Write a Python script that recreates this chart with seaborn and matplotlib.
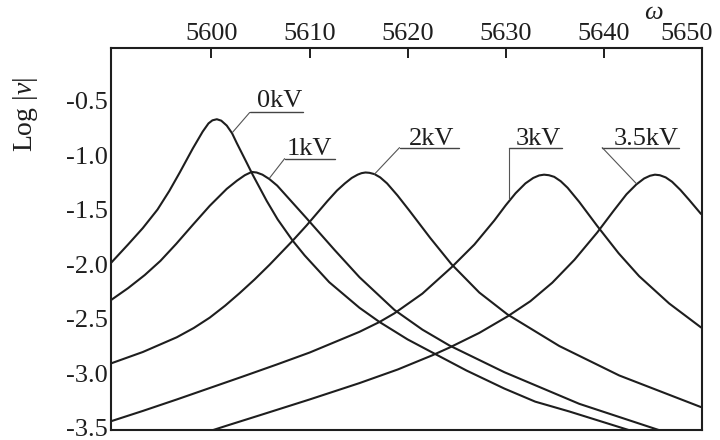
import pandas as pd
import matplotlib.pyplot as plt
import matplotlib.transforms as mtransforms
import seaborn as sns

# Curvas: frequência ω e Log|v| para cada tensão
labels = ["0kV", "1kV", "2kV", "3kV", "3.5kV"]

omega_0kv = [5589.75, 5591.50, 5593.00, 5594.50, 5595.70, 5596.77, 5598.10, 5599.11,
             5599.70, 5600.10, 5600.55, 5601.00, 5601.56, 5602.10, 5602.58, 5603.59,
             5604.20, 5605.63, 5606.75, 5608.28, 5609.50, 5612.00, 5615.09, 5617.13,
             5620.00, 5622.73, 5626.00, 5629.85, 5633.00, 5636.47, 5642.88]
logv_0kv = [-1.99, -1.82, -1.67, -1.50, -1.33, -1.16, -0.94, -0.785,
            -0.71, -0.682, -0.672, -0.685, -0.73, -0.80, -0.89, -1.07,
            -1.18, -1.42, -1.59, -1.785, -1.92, -2.165, -2.40, -2.53,
            -2.69, -2.82, -2.975, -3.14, -3.26, -3.35, -3.53]

omega_1kv = [5589.75, 5591.50, 5593.20, 5594.80, 5596.40, 5598.10, 5599.83, 5601.56,
             5602.60, 5603.40, 5604.10, 5604.60, 5605.20, 5605.90, 5606.70, 5607.60,
             5608.60, 5609.70, 5612.55, 5615.09, 5618.66, 5621.50, 5624.25, 5629.85,
             5637.49, 5645.93]
logv_1kv = [-2.33, -2.22, -2.10, -1.97, -1.815, -1.64, -1.465, -1.31,
            -1.235, -1.185, -1.155, -1.16, -1.18, -1.22, -1.28, -1.37,
            -1.47, -1.58, -1.87, -2.12, -2.42, -2.60, -2.745, -2.99,
            -3.28, -3.53]

omega_2kv = [5589.75, 5593.01, 5596.47, 5598.20, 5599.83, 5601.40, 5602.88, 5604.40,
             5605.93, 5608.28, 5609.70, 5611.84, 5612.80, 5613.60, 5614.30, 5614.90,
             5615.30, 5615.70, 5616.10, 5616.62, 5617.20, 5617.90, 5618.96, 5620.18,
             5622.30, 5624.46, 5627.30, 5630.16, 5635.45, 5641.56, 5649.90]
logv_2kv = [-2.91, -2.805, -2.67, -2.585, -2.49, -2.38, -2.265, -2.14,
            -2.005, -1.785, -1.645, -1.42, -1.325, -1.26, -1.21, -1.18,
            -1.166, -1.16, -1.163, -1.175, -1.205, -1.26, -1.37, -1.51,
            -1.76, -2.00, -2.26, -2.46, -2.75, -3.02, -3.31]

omega_3kv = [5589.75, 5593.01, 5596.47, 5599.83, 5603.19, 5606.65, 5610.01, 5615.09,
             5617.13, 5618.66, 5621.50, 5624.46, 5626.80, 5628.83, 5630.00, 5631.00,
             5632.00, 5632.80, 5633.40, 5633.90, 5634.40, 5634.94, 5635.60, 5636.30,
             5637.49, 5639.32, 5641.50, 5643.59, 5646.65, 5649.90]
logv_3kv = [-3.44, -3.345, -3.24, -3.135, -3.03, -2.92, -2.81, -2.62,
            -2.53, -2.45, -2.27, -2.03, -1.82, -1.60, -1.46, -1.35,
            -1.26, -1.21, -1.187, -1.18, -1.185, -1.20, -1.24, -1.30,
            -1.43, -1.65, -1.90, -2.11, -2.36, -2.58]

omega_35kv = [5599.83, 5601.56, 5604.92, 5610.01, 5615.09, 5619.00, 5622.52, 5624.25,
              5627.30, 5630.16, 5632.50, 5634.74, 5637.00, 5639.32, 5641.00, 5642.30,
              5643.30, 5644.10, 5644.70, 5645.20, 5645.70, 5646.30, 5646.95, 5647.80,
              5648.68, 5649.90]
logv_35kv = [-3.53, -3.48, -3.385, -3.24, -3.09, -2.965, -2.835, -2.765,
             -2.63, -2.48, -2.34, -2.17, -1.96, -1.71, -1.51, -1.36,
             -1.27, -1.215, -1.19, -1.18, -1.185, -1.205, -1.245, -1.32,
             -1.41, -1.54]

x_ticks = [5600, 5610, 5620, 5630, 5640, 5650]
y_ticks = [-3.5, -3.0, -2.5, -2.0, -1.5, -1.0, -0.5]

curves = [(omega_0kv, logv_0kv), (omega_1kv, logv_1kv), (omega_2kv, logv_2kv),
          (omega_3kv, logv_3kv), (omega_35kv, logv_35kv)]
frames = []
for lab, (om, lv) in zip(labels, curves):
    frames.append(pd.DataFrame({"omega": om, "logv": lv, "tensao": lab}))
df = pd.concat(frames, ignore_index=True)

sns.set_style("white")
plt.rcParams["font.family"] = ["Liberation Serif", "DejaVu Serif"]
plt.rcParams["axes.unicode_minus"] = False
plt.rcParams["mathtext.fontset"] = "custom"
plt.rcParams["mathtext.rm"] = "Liberation Serif"
plt.rcParams["mathtext.it"] = "Liberation Serif:italic"

ink = "#1e1e1e"
fig = plt.figure(figsize=(7.2, 4.4), dpi=100)
ax = fig.add_axes([0.154, 0.0227, 0.821, 0.868])

sns.lineplot(data=df, x="omega", y="logv", hue="tensao", units="tensao",
             estimator=None, palette=[ink] * 5, linewidth=1.5,
             legend=False, ax=ax)

ax.set_xlim(5589.75, 5649.9)
ax.set_ylim(-3.52, -0.02)
ax.set_xticks(x_ticks)
ax.set_yticks(y_ticks)
ax.set_yticklabels([f"{t:.1f}" for t in y_ticks])
ax.xaxis.tick_top()
ax.tick_params(axis="both", direction="in", length=7, width=1.4,
               colors=ink, labelsize=19)
ax.tick_params(axis="x", pad=2.5)
ax.tick_params(axis="y", pad=2)
ax.set_xlabel("")
ax.set_ylabel("")
for sp in ax.spines.values():
    sp.set_visible(True)
    sp.set_linewidth(1.5)
    sp.set_color(ink)

# último rótulo deslocado para dentro da figura
last = ax.get_xticklabels()[-1]
last.set_transform(last.get_transform() +
                   mtransforms.ScaledTranslation(-0.15, 0, fig.dpi_scale_trans))

# rótulos das curvas com sublinhado e linha de chamada
label_pos = [(5606.96, -0.564), (5610.0, -0.996), (5622.42, -0.904),
             (5633.31, -0.904), (5644.30, -0.904)]
underline = [(5603.90, 5609.29, -0.610), (5607.46, 5612.55, -1.033),
             (5619.17, 5625.27, -0.932), (5630.36, 5635.75, -0.932),
             (5639.83, 5647.66, -0.932)]
leader_end = [(5602.17, -0.79), (5605.93, -1.21), (5616.62, -1.175),
              (5630.36, -1.40), (5643.29, -1.26)]
for lab, (tx, ty), (u0, u1, uy), (lx, ly) in zip(labels, label_pos, underline, leader_end):
    ax.text(tx, ty, lab, ha="center", va="baseline", fontsize=19, color=ink)
    ax.plot([u0, u1], [uy, uy], color="#444444", linewidth=1.0)
    ax.plot([u0, lx], [uy, ly], color="#555555", linewidth=0.8)

fig.text(25 / 720, 1 - 114 / 440, "Log $|v|$", rotation=90, ha="center",
         va="center", fontsize=20, color=ink)
fig.text(653 / 720, 1 - 13 / 440, "ω", fontstyle="italic", ha="center",
         va="center", fontsize=19, color=ink)

fig.savefig("out.png", dpi=100)
